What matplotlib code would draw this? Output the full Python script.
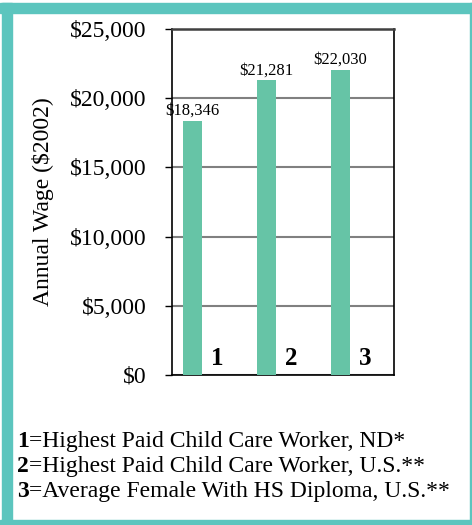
import matplotlib.pyplot as plt
from matplotlib.patches import Rectangle
from matplotlib.ticker import FuncFormatter

# data
categories = ["1", "2", "3"]
wages = [18346, 21281, 22030]
value_labels = ["$18,346", "$21,281", "$22,030"]
legend_lines = [
    ("1", "=Highest Paid Child Care Worker, ND*"),
    ("2", "=Highest Paid Child Care Worker, U.S.**"),
    ("3", "=Average Female With HS Diploma, U.S.**"),
]

plt.rcParams['font.family'] = ['Liberation Serif', 'DejaVu Serif']

W, H = 472, 525
fig = plt.figure(figsize=(W / 100, H / 100), dpi=100)

teal = '#5CC5BE'
bar_color = '#66C4A6'

# teal frame
def frame(x0, y0, x1, y1):
    fig.patches.append(Rectangle((x0 / W, 1 - y1 / H), (x1 - x0) / W, (y1 - y0) / H,
                                 transform=fig.transFigure, color=teal, zorder=0))

frame(0, 3, 472, 13)
frame(2, 3, 12, 525)
frame(0, 520, 472, 525)
frame(470, 3, 472, 525)

ax = fig.add_axes([172 / W, 1 - 375 / H, 222 / W, 346 / H])

xs = [i + 0.277 for i in range(len(categories))]
ax.bar(xs, wages, width=0.257, color=bar_color, zorder=3)
for x, v, lab in zip(xs, wages, value_labels):
    ax.text(x, v + 150, lab, ha='center', va='bottom', fontsize=12, zorder=4)
for i, c in enumerate(categories):
    ax.text(i + 0.61, 350, c, ha='center', va='bottom', fontsize=18,
            fontweight='bold', zorder=4)

ax.set_xlim(0, 3)
ax.set_ylim(0, 25000)
ax.set_yticks(range(0, 25001, 5000))
ax.yaxis.set_major_formatter(FuncFormatter(lambda v, p: f"${int(v):,}"))
ax.set_xticks([])
ax.tick_params(axis='y', direction='out', length=5, width=1, labelsize=17, pad=13.5)
ax.grid(axis='y', color='#808080', linewidth=1.5, zorder=1)
ax.set_axisbelow(True)
for s in ['left', 'bottom', 'right']:
    ax.spines[s].set_color('black')
    ax.spines[s].set_linewidth(1.2)
ax.spines['top'].set_color('#404040')
ax.spines['top'].set_linewidth(1.8)

ax.set_ylabel("Annual Wage ($2002)", fontsize=17, labelpad=11)

# legend text below
for k, (num, txt) in enumerate(legend_lines):
    y = 1 - (447 + 25 * k) / H
    t = fig.text(17 / W, y, num, fontsize=17, fontweight='bold', va='baseline')
    fig.canvas.draw()
    bb = t.get_window_extent()
    fig.text(bb.x1 / W, y, txt, fontsize=17, va='baseline')

fig.savefig('out.png', dpi=100)
